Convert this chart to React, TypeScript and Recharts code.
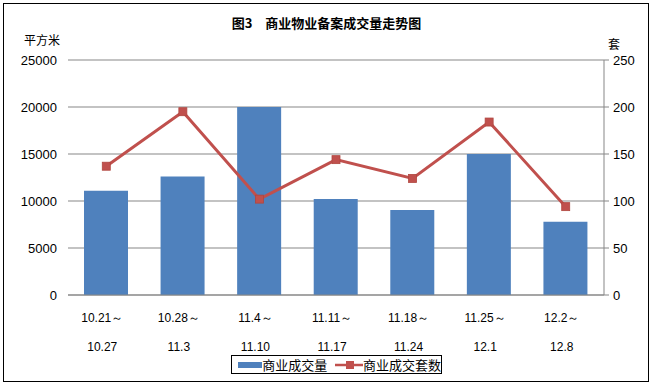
import React from 'react';
import { ComposedChart, Bar, Line, XAxis, YAxis, CartesianGrid, Legend } from 'recharts';

const weekStart = ['10.21～', '10.28～', '11.4～', '11.11～', '11.18～', '11.25～', '12.2～'];
const weekEnd = ['10.27', '11.3', '11.10', '11.17', '11.24', '12.1', '12.8'];
const areaValues = [11100, 12600, 20000, 10200, 9050, 15000, 7800];
const unitValues = [137, 195, 102, 144, 124, 184, 94];
const leftTicks = [0, 5000, 10000, 15000, 20000, 25000];
const rightTicks = [0, 50, 100, 150, 200, 250];

const seriesNames = ['商业成交量', '商业成交套数'];
const title = '图3　商业物业备案成交量走势图';

const data = weekStart.map((s, i) => ({
  name: s,
  end: weekEnd[i],
  area: areaValues[i],
  units: unitValues[i],
}));

const BLUE = '#4F81BD';
const RED = '#C0504D';
const GRID = '#878787';
const numFont = '"Liberation Sans", Arial, sans-serif';
const cjkFont = '"Noto Sans CJK SC", sans-serif';

const XTick = (props: any) => {
  const { x, y, payload, index } = props;
  return (
    <g>
      <text x={x - 4} y={y + 19} textAnchor="middle" fontSize={12} fontFamily={numFont} fill="#000">
        {payload.value}
      </text>
      <text x={x - 4} y={y + 48} textAnchor="middle" fontSize={12} fontFamily={numFont} fill="#000">
        {weekEnd[index]}
      </text>
    </g>
  );
};

const SquareDot = (props: any) => {
  const { cx, cy, index } = props;
  if (cx == null || cy == null) return <g key={index} />;
  return <rect key={index} x={cx - 4} y={cy - 4} width={8} height={8} fill={RED} stroke="#B0463F" strokeWidth={0.8} />;
};

const LegendContent = () => (
  <div
    style={{
      border: '1px solid #000',
      height: 19,
      width: 211,
      boxSizing: 'border-box',
      display: 'flex',
      alignItems: 'center',
      fontFamily: cjkFont,
      fontSize: 13,
      color: '#000',
      background: '#fff',
      whiteSpace: 'nowrap',
    }}
  >
    <svg width={30} height={12} style={{ marginLeft: 4 }}>
      <rect x={2} y={3} width={26} height={6} fill={BLUE} />
    </svg>
    <span style={{ lineHeight: '17px' }}>{seriesNames[0]}</span>
    <svg width={34} height={12} style={{ marginLeft: 6 }}>
      <line x1={2} y1={6} x2={32} y2={6} stroke={RED} strokeWidth={2.5} />
      <rect x={13} y={2} width={8} height={8} fill={RED} />
    </svg>
    <span style={{ lineHeight: '17px' }}>{seriesNames[1]}</span>
  </div>
);

export default function App() {
  return (
    <div style={{ position: 'absolute', left: 0, top: 0, width: 653, height: 386, background: '#fff' }}>
      <ComposedChart
        width={653}
        height={386}
        data={data}
        margin={{ top: 60, right: 0, bottom: 31, left: 0 }}
      >
        <CartesianGrid yAxisId="left" vertical={false} stroke={GRID} strokeWidth={1} />
        <XAxis
          dataKey="name"
          height={60}
          tickLine={false}
          axisLine={{ stroke: GRID }}
          tick={<XTick />}
          interval={0}
        />
        <YAxis
          yAxisId="left"
          orientation="left"
          width={68}
          domain={[0, 25000]}
          ticks={leftTicks}
          interval={0}
          axisLine={false}
          tickLine={false}
          tickSize={6}
          tickMargin={5}
          tick={{ fontSize: 13, fontFamily: numFont, fill: '#000' }}
        />
        <YAxis
          yAxisId="right"
          orientation="right"
          width={49}
          domain={[0, 250]}
          ticks={rightTicks}
          interval={0}
          axisLine={{ stroke: GRID }}
          tickLine={{ stroke: GRID }}
          tickSize={5}
          tickMargin={4}
          tick={{ fontSize: 13, fontFamily: numFont, fill: '#000', textAnchor: 'start' }}
        />
        <Bar yAxisId="left" dataKey="area" name={seriesNames[0]} fill={BLUE} barSize={44} isAnimationActive={false} />
        <Line
          yAxisId="right"
          dataKey="units"
          name={seriesNames[1]}
          stroke={RED}
          strokeWidth={3}
          dot={<SquareDot />}
          activeDot={false}
          isAnimationActive={false}
        />
        <Legend
          layout="horizontal"
          verticalAlign="middle"
          align="center"
          content={<LegendContent />}
          wrapperStyle={{ left: 231, top: 355, width: 211, height: 19 }}
        />
      </ComposedChart>
      <div
        style={{
          position: 'absolute',
          left: 0,
          top: 13,
          width: 653,
          textAlign: 'center',
          fontFamily: cjkFont,
          fontWeight: 'bold',
          fontSize: 13,
          lineHeight: '20px',
          whiteSpace: 'pre',
        }}
      >
        {title}
      </div>
      <div style={{ position: 'absolute', left: 24, top: 31, fontFamily: cjkFont, fontSize: 12, lineHeight: '18px' }}>平方米</div>
      <div style={{ position: 'absolute', left: 608, top: 35, fontFamily: cjkFont, fontSize: 12, lineHeight: '18px' }}>套</div>
      <div
        style={{
          position: 'absolute',
          left: 3,
          top: 3,
          width: 646,
          height: 379,
          border: '1.5px solid #000',
          boxSizing: 'border-box',
          pointerEvents: 'none',
        }}
      />
    </div>
  );
}
